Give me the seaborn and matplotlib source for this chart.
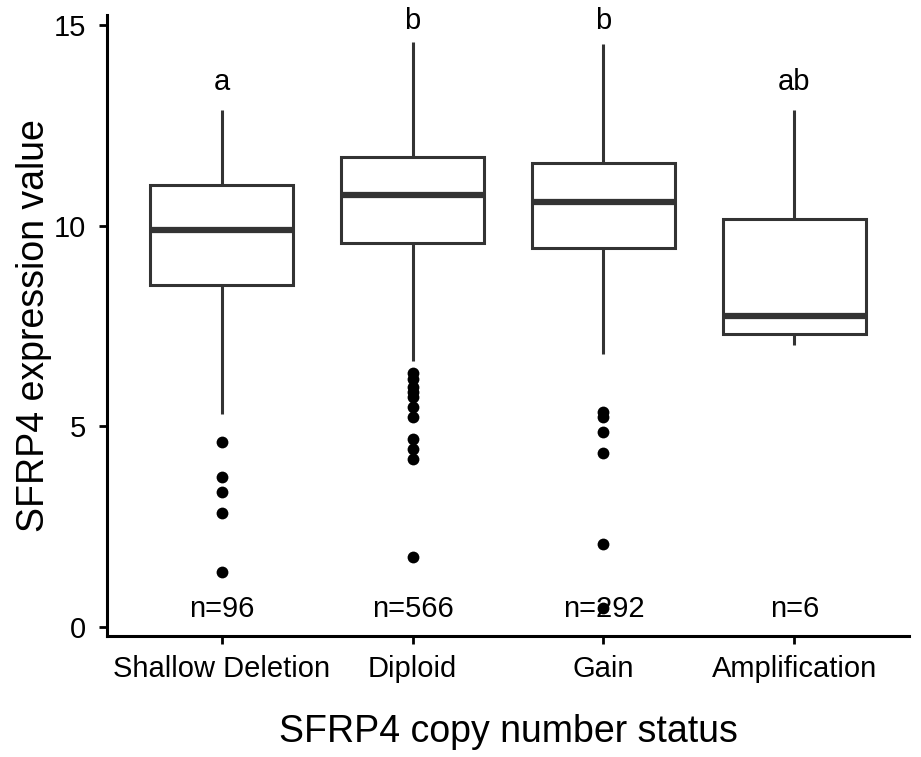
import matplotlib
matplotlib.use("Agg")
import matplotlib.pyplot as plt
import seaborn as sns
import pandas as pd

# ---- data ----
groups = ["Shallow Deletion", "Diploid", "Gain", "Amplification"]
# five-number summaries: lower whisker, Q1, median, Q3, upper whisker
shallow_box = [5.30, 8.53, 9.89, 11.01, 12.88]
diploid_box = [6.63, 9.57, 10.76, 11.72, 14.57]
gain_box = [6.81, 9.45, 10.60, 11.55, 14.53]
amp_box = [7.02, 7.29, 7.74, 10.16, 12.88]
# outliers
shallow_out = [4.61, 3.74, 3.35, 2.84, 1.37]
diploid_out = [6.33, 6.18, 5.98, 5.85, 5.72, 5.48, 5.23, 4.69, 4.44, 4.19, 1.74]
gain_out = [5.36, 5.23, 4.86, 4.32, 2.07, 0.46]
amp_out = []
letters = ["a", "b", "b", "ab"]
letter_y = [13.39, 14.89, 14.89, 13.39]
n_labels = ["n=96", "n=566", "n=292", "n=6"]
n_y = 0.245

box_sets = [shallow_box, diploid_box, gain_box, amp_box]
out_sets = [shallow_out, diploid_out, gain_out, amp_out]

box_df = pd.DataFrame([(g, v) for g, vals in zip(groups, box_sets) for v in vals],
                      columns=["status", "value"])
out_df = pd.DataFrame([(g, v) for g, vals in zip(groups, out_sets) for v in vals],
                      columns=["status", "value"])

sns.set_style("ticks")
plt.rcParams["font.family"] = ["Liberation Sans", "DejaVu Sans"]
plt.rcParams["text.color"] = "black"
plt.rcParams["axes.labelcolor"] = "black"

fig = plt.figure(figsize=(9.21, 7.57), dpi=100)
ax = fig.add_axes([107/921, 1 - 636/757, (909 - 107)/921, (636 - 15)/757])

sns.boxplot(data=box_df, x="status", y="value", order=groups, ax=ax,
            color="white", linecolor="#333333", linewidth=2.2, width=0.75,
            showfliers=False, showcaps=False, whis=1.5,
            medianprops={"linewidth": 4.5, "color": "#333333"})
sns.stripplot(data=out_df, x="status", y="value", order=groups, ax=ax,
              jitter=False, color="black", size=8.5, linewidth=0)

for i, (lab, ly, nl) in enumerate(zip(letters, letter_y, n_labels)):
    ax.text(i, ly, lab, ha="center", va="baseline", fontsize=21, color="black")
    ax.text(i, n_y, nl, ha="center", va="baseline", fontsize=21, color="black")

ax.set_xlim(-0.6, 3.6)
ax.set_ylim(-0.23, 15.25)
ax.set_yticks([0, 5, 10, 15])
ax.set_xlabel("SFRP4 copy number status", fontsize=27, labelpad=22)
ax.set_ylabel("SFRP4 expression value", fontsize=27, labelpad=1)
ax.tick_params(axis="both", labelsize=21, length=6, width=2, color="black",
               labelcolor="black")
ax.tick_params(axis="x", pad=8)
ax.tick_params(axis="y", pad=9)
for side in ["left", "bottom"]:
    ax.spines[side].set_linewidth(2.2)
    ax.spines[side].set_color("black")
for side in ["top", "right"]:
    ax.spines[side].set_visible(False)

fig.savefig("out.png", dpi=100, facecolor="white")
